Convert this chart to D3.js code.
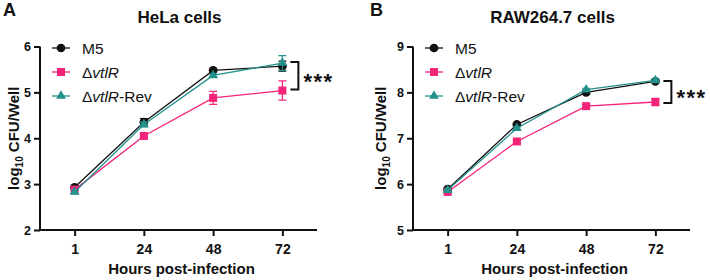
<!DOCTYPE html>
<html>
<head>
<meta charset="utf-8">
<script src="https://cdn.jsdelivr.net/npm/d3@7"></script>
<style>
  body { margin: 0; background: #fff; }
  svg text { font-family: "Liberation Sans", Arial, sans-serif; fill: #111; }
</style>
</head>
<body>
<div id="content"></div>
<script>
const hours = ["1", "24", "48", "72"];
const seriesNames = ["M5", "ΔvtlR", "ΔvtlR-Rev"];

// HeLa cells
const helaM5 = [2.93, 4.35, 5.48, 5.57];
const helaM5Err = [0.03, 0.08, 0.03, 0.11];
const helaDel = [2.88, 4.05, 4.88, 5.04];
const helaDelErr = [0.03, 0.04, 0.14, 0.21];
const helaRev = [2.83, 4.30, 5.37, 5.64];
const helaRevErr = [0.04, 0.05, 0.03, 0.16];
const helaTicks = [2, 3, 4, 5, 6];

// RAW264.7 cells
const rawM5 = [5.89, 7.30, 8.00, 8.24];
const rawM5Err = [0.02, 0.03, 0.04, 0.03];
const rawDel = [5.83, 6.93, 7.70, 7.79];
const rawDelErr = [0.02, 0.03, 0.03, 0.08];
const rawRev = [5.87, 7.22, 8.06, 8.26];
const rawRevErr = [0.02, 0.03, 0.03, 0.03];
const rawTicks = [5, 6, 7, 8, 9];

const colors = ["#111111", "#f5237a", "#23918c"];

const W = 710, H = 280;
const svg = d3.select("#content").append("svg")
  .attr("width", W).attr("height", H);

function drawPanel(opt) {
  const g = svg.append("g").attr("transform", `translate(${opt.left},0)`);
  const top = 46.5, bottom = 230, width = 277;

  const x = d3.scalePoint().domain(hours).range([0, width]).padding(0.5);
  const y = d3.scaleLinear().domain(d3.extent(opt.ticks)).range([bottom, top]);

  // panel letter and title
  svg.append("text").attr("x", opt.left + opt.letterDx).attr("y", 16)
    .attr("font-size", 18).attr("font-weight", "bold").text(opt.letter);
  g.append("text").attr("x", width / 2 + 1).attr("y", 23)
    .attr("text-anchor", "middle").attr("font-size", 17).attr("font-weight", "bold")
    .text(opt.title);

  // axes
  const yAxis = g.append("g").call(d3.axisLeft(y).tickValues(opt.ticks)
    .tickFormat(d3.format("d")).tickSize(6).tickPadding(3));
  const xAxis = g.append("g").attr("transform", `translate(0,${bottom})`)
    .call(d3.axisBottom(x).tickSize(6).tickPadding(8));
  [yAxis, xAxis].forEach((a) => {
    a.select(".domain").attr("stroke", "#111").attr("stroke-width", 2);
    a.selectAll(".tick line").attr("stroke", "#111").attr("stroke-width", 2);
    a.selectAll(".tick text").attr("font-weight", "bold")
      .attr("fill", "#111").attr("font-family", "Liberation Sans, Arial, sans-serif");
  });
  yAxis.selectAll(".tick text").attr("font-size", 12.5);
  xAxis.selectAll(".tick text").attr("font-size", 14);
  yAxis.select(".domain").attr("d", `M0,${top}V${bottom}`);
  xAxis.select(".domain").attr("d", `M0,0H${width}`);

  // axis titles
  g.append("text").attr("x", width / 2 + 3).attr("y", 274)
    .attr("text-anchor", "middle").attr("font-size", 15).attr("font-weight", "bold")
    .text("Hours post-infection");
  const yl = g.append("text")
    .attr("transform", `translate(${opt.ylabelDx},${(top + bottom) / 2}) rotate(-90)`)
    .attr("text-anchor", "middle").attr("font-size", 15).attr("font-weight", "bold");
  yl.append("tspan").text("log");
  yl.append("tspan").attr("font-size", 10).attr("dy", 4).text("10");
  yl.append("tspan").attr("dy", -4).text(" CFU/Well");

  const line = d3.line().x((d, i) => x(hours[i])).y((d) => y(d));
  const symbols = [d3.symbolCircle, d3.symbolSquare, d3.symbolTriangle];
  const sizes = [60, 64, 42];

  opt.series.forEach((s, k) => {
    const sg = g.append("g");
    sg.append("path").datum(s.values).attr("d", line)
      .attr("fill", "none").attr("stroke", colors[k]).attr("stroke-width", 1.3);
    s.values.forEach((v, i) => {
      const cx = x(hours[i]);
      const e = s.err[i];
      sg.append("path")
        .attr("d", `M${cx},${y(v - e)}V${y(v + e)}M${cx - 4},${y(v - e)}H${cx + 4}M${cx - 4},${y(v + e)}H${cx + 4}`)
        .attr("stroke", colors[k]).attr("stroke-width", 1.2).attr("fill", "none");
    });
    sg.selectAll(".pt").data(s.values).enter().append("path")
      .attr("transform", (d, i) => `translate(${x(hours[i])},${y(d)})`)
      .attr("d", d3.symbol(symbols[k], sizes[k]))
      .attr("fill", colors[k]);
  });

  // significance bracket
  const bx = x("72") + 8;
  const y1 = y(opt.bracket[0]), y2 = y(opt.bracket[1]);
  g.append("path").attr("d", `M${bx},${y1}H${bx + 8}V${y2}H${bx}`)
    .attr("fill", "none").attr("stroke", "#111").attr("stroke-width", 2);
  g.append("text").attr("x", bx + 13).attr("y", (y1 + y2) / 2 + 13)
    .attr("font-size", 22).attr("font-weight", "bold").attr("letter-spacing", 1.5).text("***");

  // legend
  const legend = g.append("g").attr("transform", `translate(12,48)`);
  opt.series.forEach((s, k) => {
    const li = legend.append("g").attr("transform", `translate(0,${k * 24})`);
    li.append("line").attr("x1", 0).attr("x2", 18).attr("stroke", colors[k]).attr("stroke-width", 1.3);
    li.append("path").attr("transform", "translate(9,0)")
      .attr("d", d3.symbol(symbols[k], sizes[k])).attr("fill", colors[k]);
    const t = li.append("text").attr("x", 30).attr("y", 5.5).attr("font-size", 15.5);
    if (k === 0) {
      t.text(seriesNames[0]);
    } else {
      t.append("tspan").text("Δ");
      t.append("tspan").attr("font-style", "italic").text("vtlR");
      if (k === 2) t.append("tspan").text("-Rev");
    }
  });
}

drawPanel({
  left: 40, letter: "A", letterDx: -37, ylabelDx: -21, title: "HeLa cells", ticks: helaTicks,
  bracket: [5.66, 5.06],
  series: [
    { values: helaM5, err: helaM5Err },
    { values: helaDel, err: helaDelErr },
    { values: helaRev, err: helaRevErr },
  ],
});

drawPanel({
  left: 413, letter: "B", letterDx: -43, ylabelDx: -27, title: "RAW264.7 cells", ticks: rawTicks,
  bracket: [8.25, 7.77],
  series: [
    { values: rawM5, err: rawM5Err },
    { values: rawDel, err: rawDelErr },
    { values: rawRev, err: rawRevErr },
  ],
});
</script>
</body>
</html>
